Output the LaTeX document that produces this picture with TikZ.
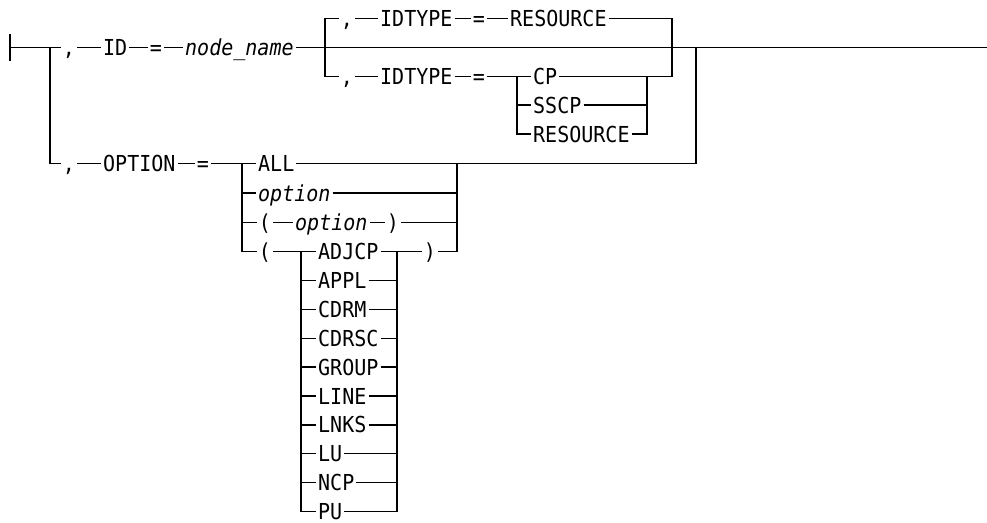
\documentclass[tikz,border=0pt]{standalone}
\usepackage{fontspec}
\newfontfamily\diagfont{DejaVu Sans Mono}[FakeStretch=0.91]
\begin{document}
\begin{tikzpicture}[x=1pt,y=-1pt, line width=1.3pt,
  lbl/.style={inner xsep=1.5pt, inner ysep=0pt, text height=16pt, text depth=0pt, font=\fontsize{22}{22}\selectfont\diagfont},
  w/.style={lbl, anchor=west},
  p/.style={lbl, anchor=center},
  it/.style={font=\fontsize{22}{22}\selectfont\diagfont\itshape}]
\useasboundingbox (0,0) rectangle (987,522);
% ---------- main row ----------
\coordinate (tkT) at (10,34);
\coordinate (tkB) at (10,61);
\coordinate (st) at (10,47.5);
\coordinate (b1) at (50,47.5);
\node[p] (c1) at (69,47.5) {,};
\node[w] (id) at (101,47.5) {ID};
\node[p] (e1) at (156,47.5) {=};
\node[w,it] (nn) at (183,47.5) {node\_name};
\coordinate (sp) at (325,47.5);
\coordinate (jn) at (672,47.5);
\coordinate (t2) at (696,47.5);
\coordinate (en) at (987,47.5);
\draw (tkT) -- (tkB);
\draw (st) -- (c1);
\draw (c1) -- (id);
\draw (id) -- (e1);
\draw (e1) -- (nn);
\draw (nn) -- (sp) -- (jn) -- (t2) -- (en);
% ---------- IDTYPE top ----------
\coordinate (tl) at (325,18.5);
\node[p] (c2) at (347,18.5) {,};
\node[w] (idt1) at (378,18.5) {IDTYPE};
\node[p] (e2) at (479,18.5) {=};
\node[w] (res1) at (508,18.5) {RESOURCE};
\coordinate (tr) at (672,18.5);
\coordinate (br) at (672,76.5);
\draw (sp) -- (tl) -- (c2);
\draw (c2) -- (idt1);
\draw (idt1) -- (e2);
\draw (e2) -- (res1);
\draw (res1) -- (tr) -- (br);
% ---------- IDTYPE bottom ----------
\coordinate (bl) at (325,76.5);
\node[p] (c3) at (347,76.5) {,};
\node[w] (idt2) at (378,76.5) {IDTYPE};
\node[p] (e3) at (479,76.5) {=};
\coordinate (v1t) at (517,76.5);
\coordinate (v1s) at (517,105);
\coordinate (v1b) at (517,134);
\node[w] (cp) at (531,76.5) {CP};
\node[w] (sscp) at (531,105) {SSCP};
\node[w] (res2) at (531,134) {RESOURCE};
\coordinate (v2t) at (647,76.5);
\coordinate (v2s) at (647,105);
\coordinate (v2b) at (647,134);
\draw (sp) -- (bl) -- (c3);
\draw (c3) -- (idt2);
\draw (idt2) -- (e3);
\draw (e3) -- (v1t) -- (cp);
\draw (cp) -- (br);
\draw (v1t) -- (v1b) -- (res2);
\draw (v1s) -- (sscp);
\draw (sscp) -- (v2s);
\draw (res2) -- (v2b) -- (v2t);
% ---------- OPTION row ----------
\coordinate (ob) at (50,163.5);
\node[p] (c4) at (69,163.5) {,};
\node[w] (opt) at (101,163.5) {OPTION};
\node[p] (e4) at (203,163.5) {=};
\coordinate (v3t) at (242,163.5);
\node[w] (all) at (256,163.5) {ALL};
\coordinate (v4r) at (696,163.5);
\coordinate (v5t) at (457,163.5);
\draw (b1) -- (ob) -- (c4);
\draw (c4) -- (opt);
\draw (opt) -- (e4);
\draw (e4) -- (v3t) -- (all);
\draw (all) -- (v4r) -- (t2);
% option
\coordinate (v3a) at (242,193);
\node[w,it] (o1) at (256,193) {option};
\coordinate (v5a) at (457,193);
\draw (v3a) -- (o1) -- (v5a);
% ( option )
\coordinate (v3b) at (242,222.3);
\node[p] (lp1) at (265,222.3) {(};
\node[w,it] (o2) at (293,222.3) {option};
\node[p] (rp1) at (393,222.3) {)};
\coordinate (v5b) at (457,222.3);
\draw (v3b) -- (lp1);
\draw (lp1) -- (o2);
\draw (o2) -- (rp1);
\draw (rp1) -- (v5b);
% ( list )
\coordinate (v3c) at (242,251.5);
\node[p] (lp2) at (265,251.5) {(};
\coordinate (v6t) at (301,251.5);
\node[w] (adj) at (316,251.5) {ADJCP};
\coordinate (v7t) at (397,251.5);
\node[p] (rp2) at (430,251.5) {)};
\coordinate (v5c) at (457,251.5);
\draw (v3t) -- (v3c) -- (lp2);
\draw (lp2) -- (v6t) -- (adj);
\draw (adj) -- (v7t) -- (rp2);
\draw (rp2) -- (v5c) -- (v5t);
\foreach \t [count=\i] in {APPL,CDRM,CDRSC,GROUP,LINE,LNKS,LU,NCP,PU}{
  \coordinate (sl\i) at (301,251.5+28.9*\i);
  \coordinate (sr\i) at (397,251.5+28.9*\i);
  \node[w] (s\i) at (316,251.5+28.9*\i) {\t};
  \draw (sl\i) -- (s\i) -- (sr\i);
}
\draw (v6t) -- (sl9);
\draw (v7t) -- (sr9);
\end{tikzpicture}
\end{document}
